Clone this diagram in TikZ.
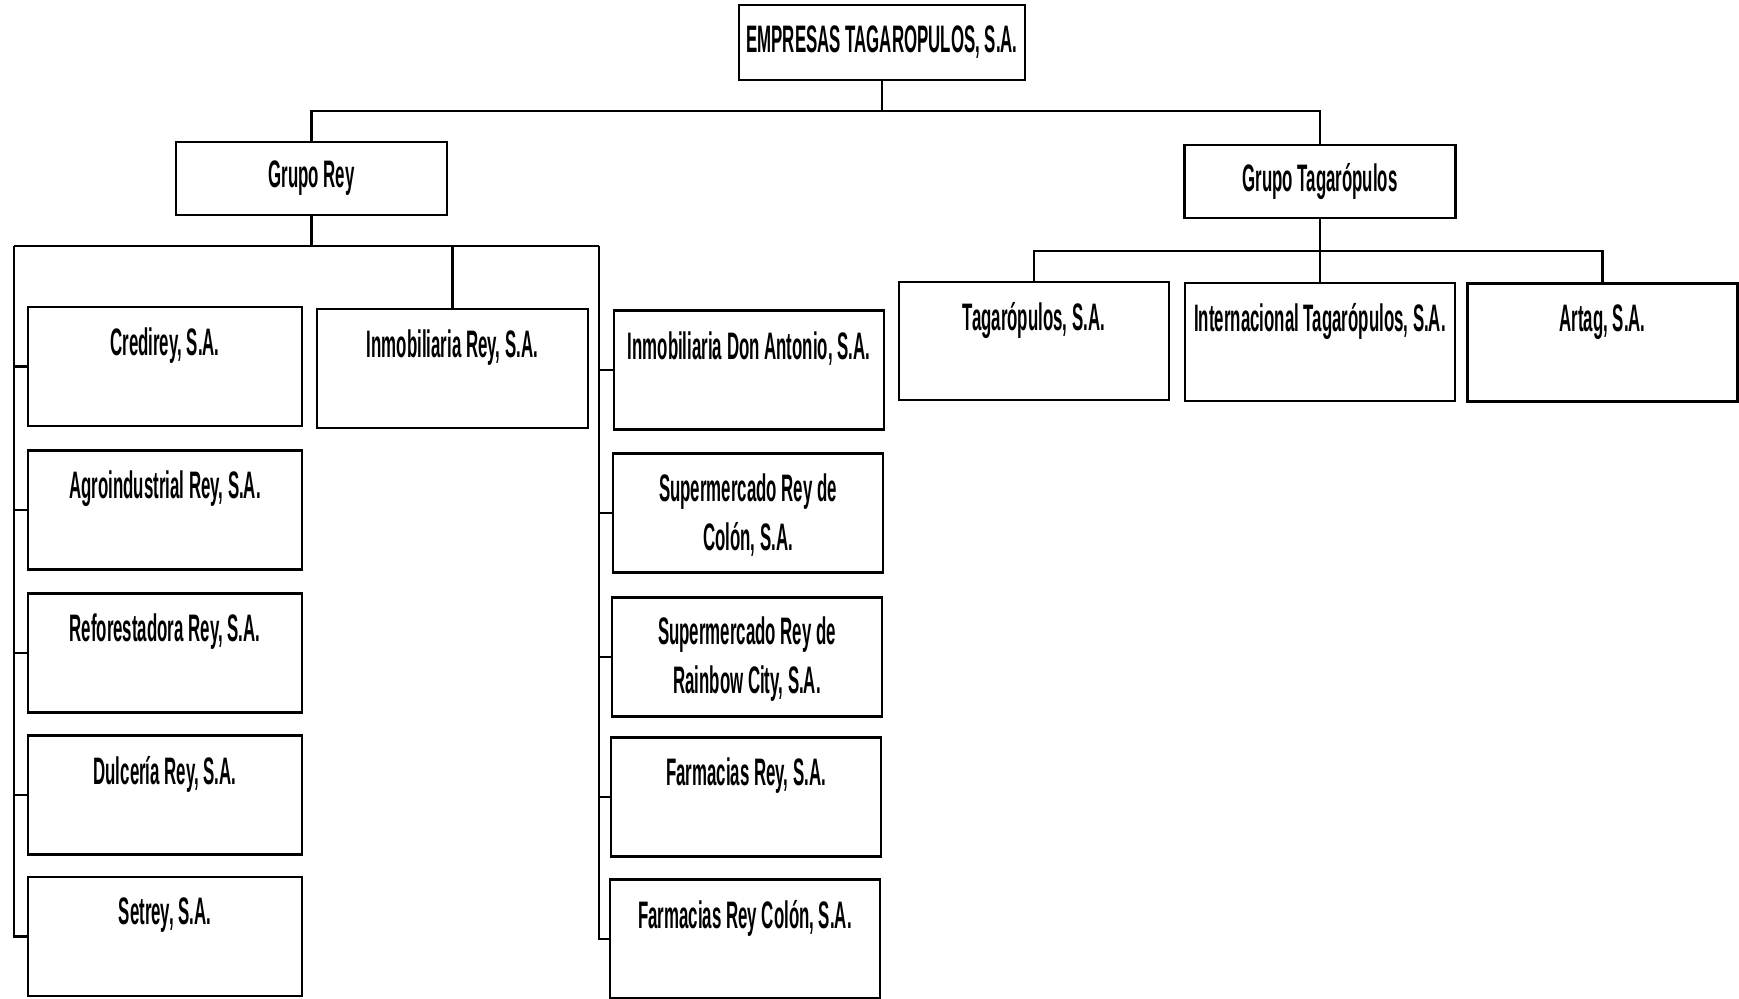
\documentclass[tikz,border=0pt]{standalone}
\usepackage{fontspec}
\setmainfont{Liberation Sans}[FakeStretch=0.44]
\begin{document}
\begin{tikzpicture}[x=0.1mm,y=-0.1mm,line width=0.8pt,
  font=\fontsize{10.9}{13.9}\selectfont\bfseries,
  head/.style={draw,inner sep=0pt,minimum width=27.1mm,minimum height=7.3mm},
  unit/.style={draw,inner sep=0pt,minimum width=27.2mm,minimum height=11.9mm},
  one/.style={label={[anchor=center,yshift=-4mm]north:#1}},
  two/.style={label={[anchor=center,yshift=-6.3mm,align=center]north:#1}}]
  \useasboundingbox (0,0) rectangle (1739,999);

  % top of the chart
  \node[head,minimum width=28.6mm,minimum height=7.5mm] (emp) at (882,42.5) {EMPRESAS TAGAROPULOS, S.A.};
  \node[head] (rey) at (311.5,178.5) {Grupo Rey};
  \node[head] (tag) at (1320,181.5) {Grupo Tagarópulos};

  % Grupo Rey, left column
  \node[unit,minimum width=27.4mm,one={Credirey, S.A.}] (cred) at (165,366.5) {};
  \node[unit,minimum width=27.4mm,one={Agroindustrial Rey, S.A.}] (agro) at (165,510) {};
  \node[unit,minimum width=27.4mm,one={Reforestadora Rey, S.A.}] (refo) at (165,653) {};
  \node[unit,minimum width=27.4mm,one={Dulcería Rey, S.A.}] (dulc) at (165,795) {};
  \node[unit,minimum width=27.4mm,one={Setrey, S.A.}] (setr) at (165,936.5) {};
  \node[unit,minimum width=27.1mm,one={Inmobiliaria Rey, S.A.}] (inmr) at (452.5,368.5) {};

  % Grupo Rey, right column
  \node[unit,minimum width=27mm,one={Inmobiliaria Don Antonio, S.A.}] (inmd) at (749,370) {};
  \node[unit,minimum width=27mm,two={Supermercado Rey de\\Colón, S.A.}] (supc) at (748,513) {};
  \node[unit,minimum width=27mm,two={Supermercado Rey de\\Rainbow City, S.A.}] (supr) at (747,657) {};
  \node[unit,minimum width=27mm,one={Farmacias Rey, S.A.}] (farm) at (746,797) {};
  \node[unit,minimum width=27mm,one={Farmacias Rey Colón, S.A.}] (farc) at (745,939) {};

  % Grupo Tagaropulos
  \node[unit,minimum width=27mm,minimum height=11.8mm,one={Tagarópulos, S.A.}] (tsa) at (1034,341) {};
  \node[unit,minimum width=27mm,minimum height=11.8mm,one={Internacional Tagarópulos, S.A.}] (intl) at (1320,342) {};
  \node[unit,minimum width=27mm,minimum height=11.8mm,one={Artag, S.A.}] (artg) at (1602.5,342.5) {};

  \coordinate (bar) at (882,111);
  \coordinate (lbus) at (14,246);
  \coordinate (rbus) at (599,246);
  \coordinate (tbar) at (1320,251);

  \draw (emp) -- (bar) -| (rey);
  \draw (bar) -| (tag);
  \draw (rey) -- (rey |- lbus);
  \draw (lbus) -- (rbus);
  \foreach \n in {cred,agro,refo,dulc,setr} \draw (lbus) |- (\n);
  \foreach \n in {inmd,supc,supr,farm,farc} \draw (rbus) |- (\n);
  \draw (inmr) -- (inmr |- rbus);
  \draw (tag) -- (tbar);
  \foreach \n in {tsa,intl,artg} \draw (tbar) -| (\n);
\end{tikzpicture}
\end{document}
